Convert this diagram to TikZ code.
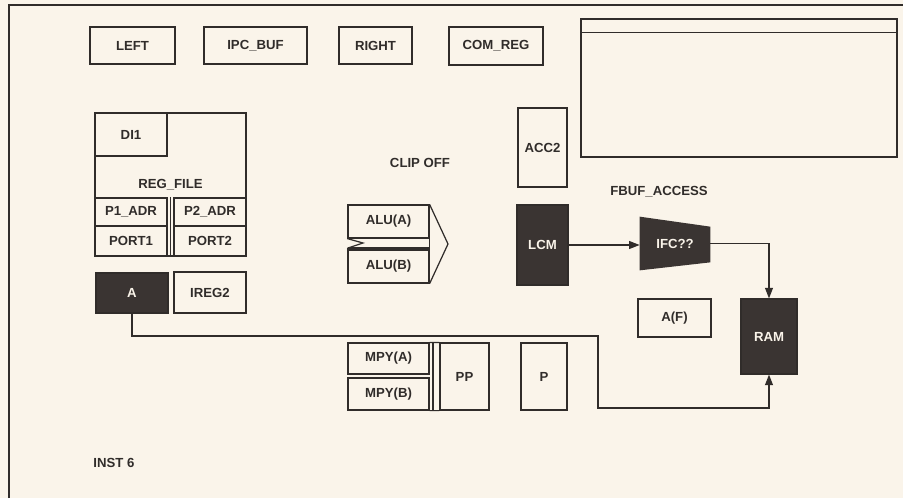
\documentclass[tikz,border=0pt]{standalone}
\usepackage{fontspec}
\setmainfont{Liberation Sans}
\usepackage{xcolor}
\usetikzlibrary{arrows.meta, positioning, calc, backgrounds}

\definecolor{paper}{RGB}{250,244,234}
\definecolor{ink}{RGB}{48,44,42}
\definecolor{block}{RGB}{58,52,50}

\begin{document}
\begin{tikzpicture}[
  x=0.02cm, y=-0.02cm,
  font=\fontsize{7.5}{9}\selectfont\bfseries,
  >={Triangle[length=6pt, width=4.5pt]},
  box/.style={
    draw=ink, line width=0.7pt, fill=paper, text=ink,
    inner sep=0pt, align=center
  },
  dark/.style={box, fill=block, text=paper},
  tag/.style={text=ink, inner sep=0pt},
  wire/.style={draw=ink, line width=0.7pt},
  link/.style={->, wire}
]
  \begin{scope}[on background layer]
    \fill[paper] (0,0) rectangle (903,498);
  \end{scope}
  \useasboundingbox (0,0) rectangle (903,498);
  \draw[wire, line width=0.8pt] (9,498) -- (9,5) -- (903,5);

  % top row
  \node[box, minimum width=1.70cm, minimum height=0.74cm] (left) at (132.5,45.5) {LEFT};
  \node[box, minimum width=2.06cm, minimum height=0.74cm] (ipcbuf) at (255.5,45.5) {IPC\_BUF};
  \node[box, minimum width=1.46cm, minimum height=0.74cm] (right) at (375.5,45.5) {RIGHT};
  \node[box, minimum width=1.88cm, minimum height=0.76cm] (comreg) at (496,46) {COM\_REG};
  \node[box, minimum width=6.32cm, minimum height=2.76cm] (win) at (739,88) {};
  \draw[wire] ([yshift=-0.28cm]win.north west) -- ([yshift=-0.28cm]win.north east);

  % register file
  \node[box, minimum width=3.02cm, minimum height=2.86cm] (regfile) at (170.5,184.5) {REG\_FILE};
  \node[box, minimum width=1.44cm, minimum height=0.86cm] (di1) at (131,134.5) {DI1};
  \node[box, minimum width=1.44cm, minimum height=0.56cm] (p1adr) at (131,212) {P1\_ADR};
  \node[box, minimum width=1.44cm, minimum height=0.60cm] (port1) at (131,241) {PORT1};
  \node[box, minimum width=1.44cm, minimum height=0.56cm] (p2adr) at (210,212) {P2\_ADR};
  \node[box, minimum width=1.44cm, minimum height=0.60cm] (port2) at (210,241) {PORT2};
  \draw[wire] ($(p1adr.north east)!0.5!(p2adr.north west)$) -- ($(port1.south east)!0.5!(port2.south west)$);

  \node[dark, minimum width=1.44cm, minimum height=0.80cm] (a) at (132,293) {A};
  \node[box, minimum width=1.44cm, minimum height=0.82cm] (ireg2) at (210,292.5) {IREG2};

  % alu
  \node[tag] (clip) at (420,163) {CLIP OFF};
  \node[box, minimum width=1.62cm, minimum height=0.66cm] (alua) at (388.5,221.5) {ALU(A)};
  \node[box, minimum width=1.62cm, minimum height=0.66cm] (alub) at (388.5,266.5) {ALU(B)};
  \coordinate (notch) at (363,243);
  \coordinate (tip) at (448,244);
  \draw[wire] (alua.south west) -- (notch) -- (348,248) -- (alub.north west);
  \draw[wire] (348,248) -- (429,248);
  \draw[wire] (alua.south east) -- (alub.north east);
  \draw[wire] (alua.north east) -- (tip) -- (alub.south east);

  % multiplier
  \node[box, minimum width=1.62cm, minimum height=0.62cm] (mpya) at (388.5,358.5) {MPY(A)};
  \node[box, minimum width=1.62cm, minimum height=0.64cm] (mpyb) at (388.5,394) {MPY(B)};
  \node[box, minimum width=0.98cm, minimum height=1.34cm] (pp) at (464.5,376.5) {PP};
  \draw[wire] (mpya.north east) -- (pp.north west);
  \draw[wire] (mpyb.south east) -- (pp.south west);
  \draw[wire] (433,343) -- (433,410);
  \node[box, minimum width=0.92cm, minimum height=1.34cm] (p) at (544,376.5) {P};

  % frame buffer side
  \node[box, minimum width=0.98cm, minimum height=1.58cm] (acc2) at (542.5,147.5) {ACC2};
  \node[tag] (fbuf) at (659,192) {FBUF\_ACCESS};
  \node[dark, minimum width=1.02cm, minimum height=1.60cm] (lcm) at (542.5,245) {LCM};
  \node[tag, text=paper, minimum width=1.40cm, minimum height=1.06cm] (ifc) at (675,243.5) {IFC??};
  \begin{scope}[on background layer]
    \fill[block] (ifc.north west) -- ([yshift=-0.2cm]ifc.north east)
      -- ([yshift=0.16cm]ifc.south east) -- (ifc.south west) -- cycle;
  \end{scope}
  \node[box, minimum width=1.46cm, minimum height=0.76cm] (af) at (674.5,318) {A(F)};
  \node[dark, minimum width=1.12cm, minimum height=1.50cm] (ram) at (769,336.5) {RAM};

  \node[tag, anchor=west] (inst) at (93,463) {INST 6};

  \draw[link] (lcm.east) -- (lcm.east -| ifc.west);
  \draw[link] (ifc.east) -| (ram.north);
  \coordinate (turn) at (598,336);
  \coordinate (low) at (598,408);
  \draw[link] (a.south) |- (turn) -- (low) -| (ram.south);
\end{tikzpicture}
\end{document}
